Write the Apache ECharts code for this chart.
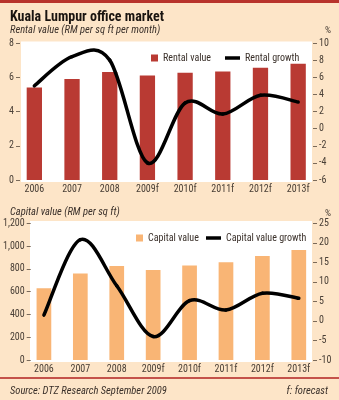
<!DOCTYPE html>
<html>
<head>
<meta charset="utf-8">
<script src="https://cdn.jsdelivr.net/npm/echarts@6/dist/echarts.min.js"></script>
<style>
  html, body { margin: 0; padding: 0; background: #fde5c8; }
  #chart { width: 339px; height: 400px; }
</style>
</head>
<body>
<div id="chart"></div>
<script>
// Years (f = forecast)
const years = ['2006', '2007', '2008', '2009f', '2010f', '2011f', '2012f', '2013f'];

// Rental value, RM per sq ft per month
const rentalValue = [5.4, 5.9, 6.3, 6.1, 6.27, 6.33, 6.56, 6.79];
// Rental growth, %
const rentalGrowth = [5.0, 8.4, 8.0, -4.0, 3.0, 1.7, 3.9, 3.1];

// Capital value, RM per sq ft
const capitalValue = [630, 760, 825, 790, 830, 858, 913, 966];
// Capital value growth, %
const capitalGrowth = [1.5, 20.8, 9.0, -4.0, 5.2, 2.8, 7.1, 5.8];

const FONT = '"Roboto Condensed", "DejaVu Sans Condensed", "Liberation Sans Narrow", Lato, sans-serif';
const BG = '#fde5c8';
const RED = '#b93a33';
const ORANGE = '#f9b575';
const TICK = '#7a6a5a';
const LABEL = '#4a4037';
const TEXT = '#3a302a';

const chart = echarts.init(document.getElementById('chart'), null, { renderer: 'canvas' });

const tickLabel = { color: LABEL, fontSize: 10, fontFamily: FONT };
const legendText = { fontFamily: FONT, fontSize: 10, color: TEXT };

// Growth curves: Catmull-Rom spline through the yearly points, one Bezier
// segment per year, positioned through the axes' own coordinate mapping.
function growthCurve(values) {
  const last = values.length - 1;
  return function (params, api) {
    const i = params.dataIndex;
    if (i >= last) return null;
    const pt = k => {
      const j = Math.max(0, Math.min(last, k));
      return api.coord([j, values[j]]);
    };
    const p0 = pt(i - 1), p1 = pt(i), p2 = pt(i + 1), p3 = pt(i + 2);
    return {
      type: 'bezierCurve',
      shape: {
        x1: p1[0], y1: p1[1], x2: p2[0], y2: p2[1],
        cpx1: p1[0] + (p2[0] - p0[0]) / 6, cpy1: p1[1] + (p2[1] - p0[1]) / 6,
        cpx2: p2[0] - (p3[0] - p1[0]) / 6, cpy2: p2[1] - (p3[1] - p1[1]) / 6
      },
      style: { stroke: '#000', lineWidth: 3.5, fill: null, lineCap: 'round' }
    };
  };
}

chart.setOption({
  backgroundColor: BG,
  animation: false,
  graphic: [
    { type: 'rect', shape: { x: 0, y: 0, width: 339, height: 3 }, style: { fill: '#b8332c' }, z: -10, silent: true },
    { type: 'rect', shape: { x: 21, y: 41.5, width: 291, height: 140.5 }, style: { fill: '#ffffff' }, z: -10, silent: true },
    { type: 'rect', shape: { x: 30, y: 221, width: 282, height: 141 }, style: { fill: '#ffffff' }, z: -10, silent: true },
    { type: 'rect', shape: { x: 0, y: 377, width: 339, height: 2 }, style: { fill: '#c4524a' }, z: -10, silent: true }
  ],
  title: [
    { text: 'Kuala Lumpur office market', left: 5, top: 5,
      textStyle: { fontFamily: FONT, fontWeight: 'bold', fontSize: 14, color: '#1a1410' } },
    { text: 'Rental value (RM per sq ft per month)', left: 5, top: 20,
      textStyle: { fontFamily: FONT, fontStyle: 'italic', fontWeight: 'normal', fontSize: 10.5, color: TEXT } },
    { text: '%', left: 320, top: 21,
      textStyle: { fontFamily: FONT, fontWeight: 'normal', fontSize: 9.5, color: LABEL } },
    { text: 'Capital value (RM per sq ft)', left: 5, top: 202,
      textStyle: { fontFamily: FONT, fontStyle: 'italic', fontWeight: 'normal', fontSize: 10.5, color: TEXT } },
    { text: '%', left: 320, top: 204,
      textStyle: { fontFamily: FONT, fontWeight: 'normal', fontSize: 9.5, color: LABEL } },
    { text: 'Source: DTZ Research September 2009', left: 5, top: 381,
      textStyle: { fontFamily: FONT, fontStyle: 'italic', fontWeight: 'normal', fontSize: 10.5, color: TEXT } },
    { text: 'f: forecast', right: 6, top: 381,
      textStyle: { fontFamily: FONT, fontStyle: 'italic', fontWeight: 'normal', fontSize: 10.5, color: TEXT } }
  ],
  legend: [
    { data: ['Rental value'], left: 146, top: 48, icon: 'rect', itemWidth: 7, itemHeight: 7, textStyle: legendText },
    { data: ['Rental growth'], left: 220, top: 48, icon: 'rect', itemWidth: 15, itemHeight: 3.5, textStyle: legendText },
    { data: ['Capital value'], left: 131, top: 228, icon: 'rect', itemWidth: 7, itemHeight: 7, textStyle: legendText },
    { data: ['Capital value growth'], left: 201, top: 228, icon: 'rect', itemWidth: 15, itemHeight: 3.5, textStyle: legendText }
  ],
  grid: [
    { left: 15.5, right: 22, top: 43, height: 137 },
    { left: 25, right: 22, top: 223.3, height: 136.7 }
  ],
  xAxis: [
    { type: 'category', gridIndex: 0, data: years,
      axisLine: { show: false }, axisTick: { show: false },
      axisLabel: Object.assign({ margin: 4 }, tickLabel) },
    { type: 'category', gridIndex: 1, data: years,
      axisLine: { show: false }, axisTick: { show: false },
      axisLabel: Object.assign({ margin: 4 }, tickLabel) }
  ],
  yAxis: [
    { type: 'value', gridIndex: 0, position: 'left', min: 0, max: 8, interval: 2, offset: -4.5,
      axisLine: { show: false }, splitLine: { show: false },
      axisTick: { show: true, length: 4, lineStyle: { color: TICK } },
      axisLabel: Object.assign({ margin: 6 }, tickLabel) },
    { type: 'value', gridIndex: 0, position: 'right', min: -6, max: 10, interval: 2, offset: -4,
      axisLine: { show: false }, splitLine: { show: false },
      axisTick: { show: true, length: 4, lineStyle: { color: TICK } },
      axisLabel: Object.assign({ margin: 6 }, tickLabel) },
    { type: 'value', gridIndex: 1, position: 'left', min: 0, max: 1200, interval: 200, offset: -5,
      axisLine: { show: false }, splitLine: { show: false },
      axisTick: { show: true, length: 4, lineStyle: { color: TICK } },
      axisLabel: Object.assign({ margin: 6, formatter: v => v.toLocaleString('en-US') }, tickLabel) },
    { type: 'value', gridIndex: 1, position: 'right', min: -10, max: 25, interval: 5, offset: -4,
      axisLine: { show: false }, splitLine: { show: false },
      axisTick: { show: true, length: 4, lineStyle: { color: TICK } },
      axisLabel: Object.assign({ margin: 6 }, tickLabel) }
  ],
  series: [
    { name: 'Rental value', type: 'bar', xAxisIndex: 0, yAxisIndex: 0, data: rentalValue,
      barWidth: 15.3, itemStyle: { color: RED } },
    { name: 'Rental growth', type: 'custom', xAxisIndex: 0, yAxisIndex: 1,
      data: rentalGrowth.map((v, i) => [i, v]), encode: { x: 0, y: 1 },
      renderItem: growthCurve(rentalGrowth), itemStyle: { color: '#000' }, z: 5 },
    { name: 'Capital value', type: 'bar', xAxisIndex: 1, yAxisIndex: 2, data: capitalValue,
      barWidth: 14.7, itemStyle: { color: ORANGE } },
    { name: 'Capital value growth', type: 'custom', xAxisIndex: 1, yAxisIndex: 3,
      data: capitalGrowth.map((v, i) => [i, v]), encode: { x: 0, y: 1 },
      renderItem: growthCurve(capitalGrowth), itemStyle: { color: '#000' }, z: 5 }
  ]
});
</script>
</body>
</html>
